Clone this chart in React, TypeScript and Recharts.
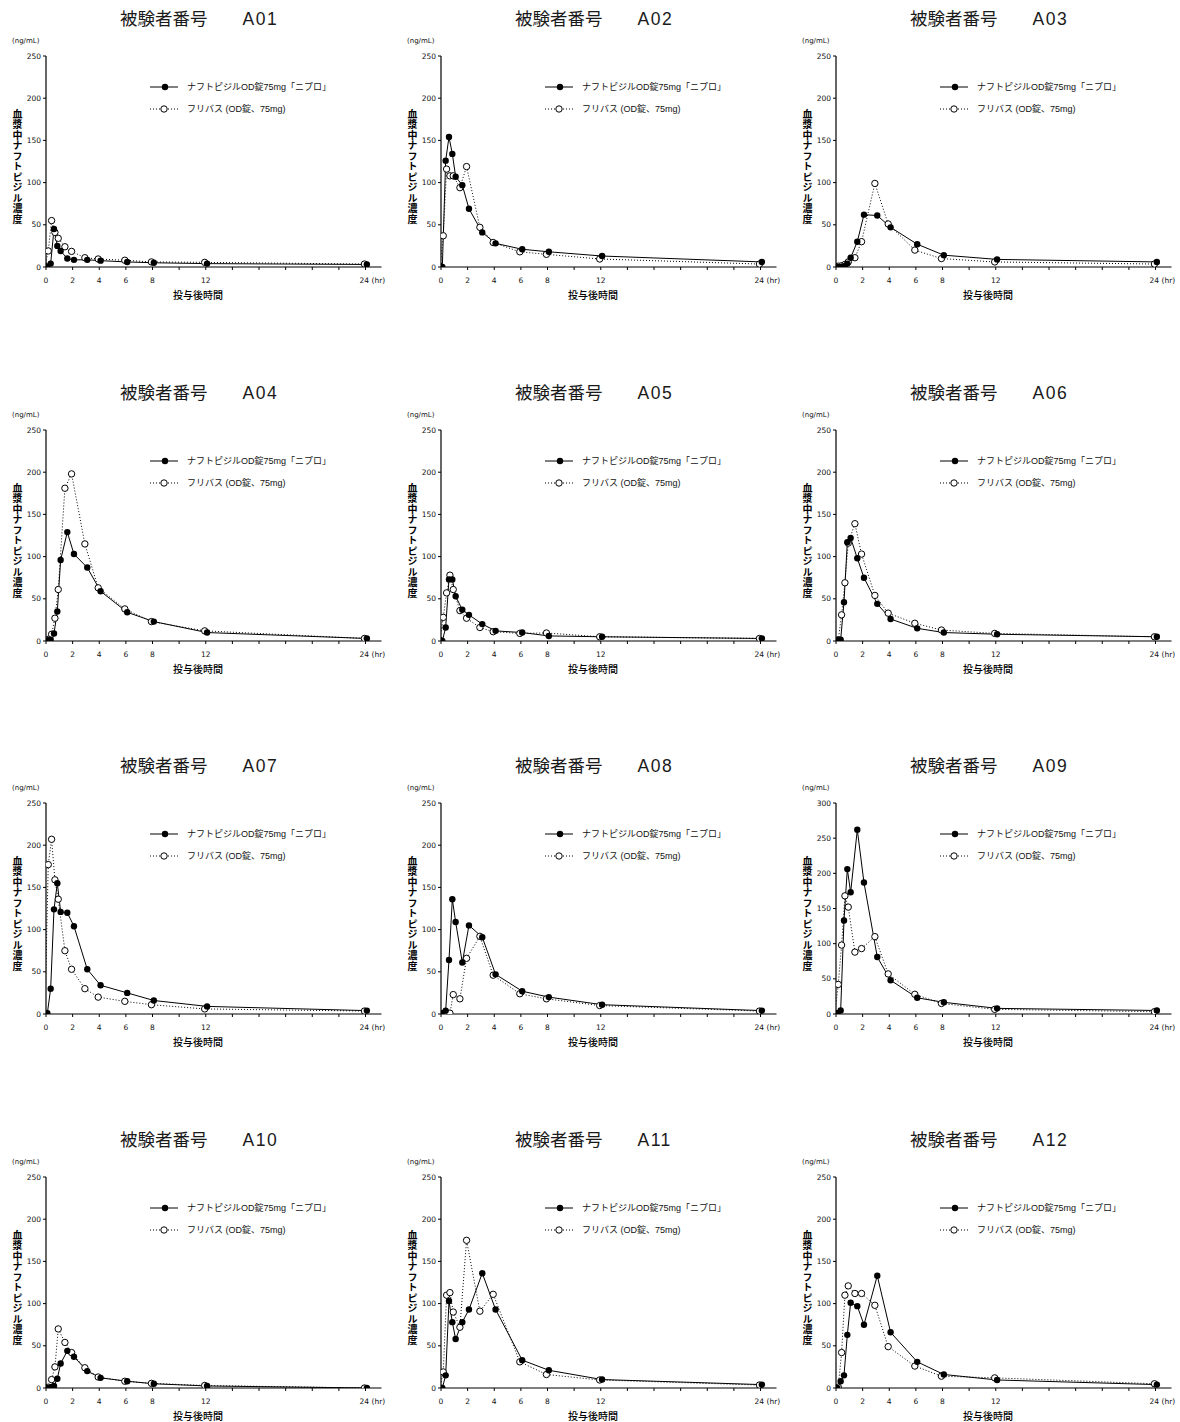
import React from 'react';
import { LineChart, Line, XAxis, YAxis, Legend } from 'recharts';

// Sampling times (hr)
const TIMES = [0, 0.25, 0.5, 0.75, 1, 1.5, 2, 3, 4, 6, 8, 12, 24];
const X_TICKS = [0, 2, 4, 6, 8, 10, 12, 14, 16, 18, 20, 22, 24];
const X_LABELED = [0, 2, 4, 6, 8, 12, 24];
const SERIES_NAMES = ['ナフトピジルOD錠75mg「ニプロ」', 'フリバス (OD錠、75mg)'];
const SUBJECT_IDS = ['A01', 'A02', 'A03', 'A04', 'A05', 'A06', 'A07', 'A08', 'A09', 'A10', 'A11', 'A12'];
const Y_MAX = [250, 250, 250, 250, 250, 250, 250, 250, 300, 250, 250, 250];

// test = ナフトピジルOD錠75mg「ニプロ」 (filled), ref = フリバス (open)
const A01_TEST = [0, 4, 45, 25, 19, 10, 8.5, 8.5, 7.5, 6, 5, 4, 3];
const A01_REF = [1, 19, 55, 41, 34, 24, 18.5, 11, 9.5, 8, 6, 5.5, 3.5];
const A02_TEST = [0, 126, 154, 134, 107, 97, 69, 41, 28, 21, 18, 13, 6];
const A02_REF = [1, 37, 116, 108, 108, 94, 119, 47, 29, 18, 15, 9.5, 3.5];
const A03_TEST = [0, 0, 1, 4, 11, 30, 62, 61, 47, 27, 14, 9, 6];
const A03_REF = [1, 1, 1.5, 3, 6, 11, 30, 99, 51, 20, 10, 6, 3.5];
const A04_TEST = [0.8, 1.5, 9, 35, 96, 129, 103, 87, 59, 34, 23, 10, 3];
const A04_REF = [1, 2, 8, 27, 61, 181, 198, 115, 63, 38, 23, 12, 3];
const A05_TEST = [0, 16, 73, 73, 53, 37, 31, 20, 12, 10, 6, 5, 3];
const A05_REF = [1, 28, 57, 78, 61, 36, 27, 16, 11, 9, 9.5, 5, 3];
const A06_TEST = [0.8, 1.5, 46, 117, 122, 98, 75, 44, 26, 15, 10, 8, 5];
const A06_REF = [0.8, 1.5, 31, 69, 116, 139, 103, 54, 33, 21, 13, 9, 5];
const A07_TEST = [0.8, 30, 124, 155, 121, 120, 104, 53, 34, 25, 16, 9, 4];
const A07_REF = [1, 177, 207, 159, 136, 75, 53, 30, 20, 15, 11, 6, 3.5];
const A08_TEST = [0.8, 4, 64, 136, 109, 61, 105, 91, 47, 27, 20, 11, 4];
const A08_REF = [1, 0.5, 0.5, 1, 23, 18, 66, 92, 46, 24, 18, 10, 3.5];
const A09_TEST = [1, 5, 133, 206, 173, 262, 187, 81, 48, 23, 16.6, 8, 5];
const A09_REF = [1, 42, 98, 168, 152, 88, 93, 110, 57, 28, 15, 6.6, 3.3];
const A10_TEST = [0, 1, 2.4, 11, 29, 44, 37, 20, 12, 8, 5, 2.4, 0];
const A10_REF = [0, 1, 10, 25, 70, 54, 42, 24, 13, 8, 5.5, 3, 0];
const A11_TEST = [0, 15, 103, 78, 58, 78, 93, 136, 93, 33, 21, 10, 4];
const A11_REF = [0, 19, 110, 113, 90, 72, 175, 91, 111, 31, 16, 9.5, 3.5];
const A12_TEST = [0, 8, 15, 63, 101, 97, 75, 133, 66, 31, 16, 9.5, 4];
const A12_REF = [0, 1, 42, 110, 121, 112, 112, 98, 49, 26, 14, 12, 5];

const SUBJECT_TEST = [A01_TEST, A02_TEST, A03_TEST, A04_TEST, A05_TEST, A06_TEST, A07_TEST, A08_TEST, A09_TEST, A10_TEST, A11_TEST, A12_TEST];
const SUBJECT_REF = [A01_REF, A02_REF, A03_REF, A04_REF, A05_REF, A06_REF, A07_REF, A08_REF, A09_REF, A10_REF, A11_REF, A12_REF];

// small horizontal offsets used by the original figure so markers don't overlap
const TEST_SHIFT = 0.1;
const REF_SHIFT = -0.08;

const NUM_FONT = "'DejaVu Sans', 'Liberation Sans', sans-serif";
const JP_FONT = "'Liberation Sans', 'Noto Sans CJK JP', sans-serif";
const CJK_FONT = "'Noto Sans CJK JP', sans-serif";

const XTick = (props: any) => {
  const { x, y, payload } = props;
  const v = payload.value;
  if (!X_LABELED.includes(v)) return <g />;
  if (v === 24) {
    return (
      <text x={x - 6} y={y} dy="0.71em" textAnchor="start" fontSize={7.5} fontFamily={NUM_FONT} fill="#111">
        24<tspan dx={2.5}>(hr)</tspan>
      </text>
    );
  }
  return (
    <text x={x} y={y} dy="0.71em" textAnchor="middle" fontSize={7.5} fontFamily={NUM_FONT} fill="#111">
      {v}
    </text>
  );
};

const LegendBox = () => (
  <svg width={230} height={36} style={{ display: 'block', overflow: 'visible' }}>
    <line x1={0} y1={9} x2={28} y2={9} stroke="#000" strokeWidth={1} />
    <circle cx={15} cy={9} r={3.2} fill="#000" />
    <text x={37} y={9} dominantBaseline="central" fontSize={9} fontFamily={JP_FONT} fill="#111">
      {SERIES_NAMES[0]}
    </text>
    <line x1={0} y1={31} x2={28} y2={31} stroke="#000" strokeWidth={1} strokeDasharray="1 2" />
    <circle cx={14} cy={31} r={3.2} fill="#fff" stroke="#000" strokeWidth={1} />
    <text x={37} y={31} dominantBaseline="central" fontSize={9} fontFamily={JP_FONT} fill="#111">
      {SERIES_NAMES[1]}
    </text>
  </svg>
);

const Panel = ({ idx }: { idx: number }) => {
  const col = idx % 3;
  const row = Math.floor(idx / 3);
  const left = col * 395;
  const top = Math.round(row * 373.5);
  const ymax = Y_MAX[idx];
  const yTicks: number[] = [];
  for (let v = 0; v <= ymax; v += 50) yTicks.push(v);
  const testData = TIMES.map((t, i) => ({ t: t + TEST_SHIFT, v: SUBJECT_TEST[idx][i] }));
  const refData = TIMES.map((t, i) => ({ t: t + REF_SHIFT, v: SUBJECT_REF[idx][i] }));

  return (
    <div style={{ position: 'absolute', left, top, width: 393, height: 373 }}>
      <div
        style={{
          position: 'absolute', left: 120, top: 8, fontSize: 17.5, lineHeight: '20px',
          fontFamily: CJK_FONT, whiteSpace: 'pre', color: '#1a1a1a',
        }}
      >
        {'被験者番号\u3000\u3000'}
        <span style={{ fontFamily: "'Liberation Sans', sans-serif", letterSpacing: '1.5px' }}>{SUBJECT_IDS[idx]}</span>
      </div>
      <div
        style={{
          position: 'absolute', left: 12, top: 37, fontSize: 7, lineHeight: '9px',
          fontFamily: NUM_FONT, color: '#111', whiteSpace: 'pre',
        }}
      >
        (ng/mL)
      </div>
      <div
        style={{
          position: 'absolute', left: 11, top: 109, fontSize: 10, lineHeight: '12px',
          fontFamily: CJK_FONT, writingMode: 'vertical-rl', textOrientation: 'upright',
          letterSpacing: '0.5px', color: '#000', fontWeight: 700,
        }}
      >
        血漿中ナフトピジル濃度
      </div>
      <div
        style={{
          position: 'absolute', left: 173, top: 289, fontSize: 10, lineHeight: '12px',
          fontFamily: CJK_FONT, color: '#000', whiteSpace: 'pre', fontWeight: 500,
        }}
      >
        投与後時間
      </div>
      <LineChart width={393} height={310} margin={{ top: 56, right: 11.5, left: 0, bottom: 20 }}>
        <XAxis
          dataKey="t"
          type="number"
          domain={[0, 25.2]}
          ticks={X_TICKS}
          interval={0}
          allowDataOverflow
          height={23}
          tickSize={3}
          tickMargin={8}
          tick={<XTick />}
          axisLine={{ stroke: '#000', strokeWidth: 1.2 }}
          tickLine={{ stroke: '#000' }}
        />
        <YAxis
          type="number"
          domain={[0, ymax]}
          ticks={yTicks}
          interval={0}
          allowDataOverflow
          width={46}
          tickSize={3}
          tickMargin={2}
          tick={{ fontSize: 7.5, fontFamily: NUM_FONT, fill: '#111' }}
          axisLine={{ stroke: '#000', strokeWidth: 1.2 }}
          tickLine={{ stroke: '#000' }}
        />
        <Legend
          layout="vertical"
          align="center"
          verticalAlign="middle"
          wrapperStyle={{ position: 'absolute', left: 150, top: 78, width: 230, height: 36 }}
          content={() => <LegendBox />}
        />
        <Line
          data={refData}
          dataKey="v"
          name={SERIES_NAMES[1]}
          stroke="#000"
          strokeWidth={1}
          strokeDasharray="1 2"
          dot={{ r: 3.2, fill: '#fff', stroke: '#000', strokeWidth: 1, strokeDasharray: '' }}
          activeDot={false}
          isAnimationActive={false}
        />
        <Line
          data={testData}
          dataKey="v"
          name={SERIES_NAMES[0]}
          stroke="#000"
          strokeWidth={1}
          dot={{ r: 3.2, fill: '#000', stroke: '#000', strokeWidth: 0 }}
          activeDot={false}
          isAnimationActive={false}
        />
      </LineChart>
    </div>
  );
};

export default function App() {
  return (
    <div style={{ position: 'absolute', left: 0, top: 0, width: 1180, height: 1422, background: '#fff' }}>
      {SUBJECT_IDS.map((_, i) => (
        <Panel key={i} idx={i} />
      ))}
    </div>
  );
}
